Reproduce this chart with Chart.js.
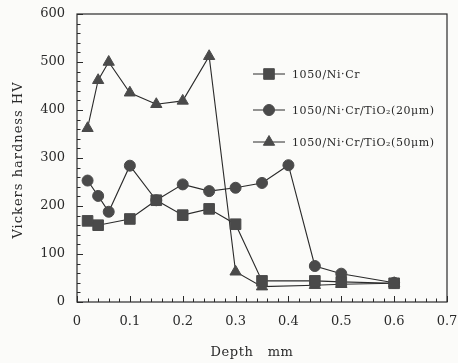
<!DOCTYPE html>
<html>
<head>
<meta charset="utf-8">
<script src="https://cdn.jsdelivr.net/npm/chart.js@4.4.1/dist/chart.umd.min.js"></script>
<style>
  html, body { margin: 0; padding: 0; background: #fbfbf9; }
  #wrap { width: 458px; height: 363px; }
</style>
</head>
<body>
<div id="wrap"><canvas id="hv"></canvas></div>
<script>
// data
const seriesNames = ['1050/Ni·Cr', '1050/Ni·Cr/TiO₂(20μm)', '1050/Ni·Cr/TiO₂(50μm)'];

const depthNiCr = [0.02, 0.04, 0.1, 0.15, 0.2, 0.25, 0.3, 0.35, 0.45, 0.5, 0.6];
const hvNiCr    = [169, 160, 173, 212, 181, 194, 162, 44, 44, 42, 39];

const depth20 = [0.02, 0.04, 0.06, 0.1, 0.15, 0.2, 0.25, 0.3, 0.35, 0.4, 0.45, 0.5, 0.6];
const hv20    = [253, 221, 188, 284, 212, 245, 231, 238, 248, 285, 75, 59, 40];

const depth50 = [0.02, 0.04, 0.06, 0.1, 0.15, 0.2, 0.25, 0.3, 0.35, 0.45, 0.5, 0.6];
const hv50    = [362, 462, 500, 436, 412, 419, 512, 63, 32, 35, 37, 39];

const xTicks = [0, 0.1, 0.2, 0.3, 0.4, 0.5, 0.6, 0.7];
const yTicks = [0, 100, 200, 300, 400, 500, 600];

const xTitle = 'Depth   mm';
const yTitle = 'Vickers hardness HV';

const FONT = '"DejaVu Serif", "Liberation Serif", serif';
const INK = '#2a2a2a';
const MARK = '#4a4a4a';

function pts(xs, ys) {
    return xs.map((x, i) => ({ x: x, y: ys[i] }));
}

// box + inward ticks, drawn from the scales
const frameTicks = {
    id: 'frameTicks',
    afterDraw(chart) {
        const ctx = chart.ctx;
        const a = chart.chartArea;
        const xs = chart.scales.x, ys = chart.scales.y;
        ctx.save();
        ctx.strokeStyle = INK;
        ctx.lineWidth = 1.2;
        ctx.strokeRect(a.left, a.top, a.right - a.left, a.bottom - a.top);
        ctx.lineWidth = 1;
        ctx.beginPath();
        for (let v = 0; v <= 600.001; v += 20) {
            const py = Math.round(ys.getPixelForValue(v)) + 0.5;
            const len = (Math.round(v) % 100 === 0) ? 6 : 3.5;
            ctx.moveTo(a.left, py);
            ctx.lineTo(a.left + len, py);
        }
        for (let k = 0; k <= 35; k++) {
            const px = Math.round(xs.getPixelForValue(k * 0.02)) + 0.5;
            const len = (k % 5 === 0) ? 6 : 3.5;
            ctx.moveTo(px, a.bottom);
            ctx.lineTo(px, a.bottom - len);
        }
        ctx.stroke();

        // axis titles, a bit letter-spaced like the scan
        ctx.fillStyle = INK;
        ctx.textAlign = 'center';
        ctx.textBaseline = 'middle';
        ctx.font = '13px ' + FONT;
        ctx.letterSpacing = '0.6px';
        ctx.fillText(xTitle, 252, 353);
        ctx.translate(19, (a.top + a.bottom) / 2 + 2);
        ctx.rotate(-Math.PI / 2);
        ctx.font = '13px ' + FONT;
        ctx.letterSpacing = '1px';
        ctx.fillText(yTitle, 0, 0);
        ctx.restore();
    }
};

// legend inside the plot, right side
const innerLegend = {
    id: 'innerLegend',
    afterDraw(chart) {
        const ctx = chart.ctx;
        const rows = [74, 110, 142];
        const x0 = 253, x1 = 285;
        ctx.save();
        chart.data.datasets.forEach((ds, i) => {
            const y = rows[i];
            ctx.strokeStyle = INK;
            ctx.lineWidth = 1;
            ctx.beginPath();
            ctx.moveTo(x0, y);
            ctx.lineTo(x1, y);
            ctx.stroke();
            ctx.fillStyle = MARK;
            ctx.strokeStyle = MARK;
            Chart.helpers.drawPoint(ctx, {
                pointStyle: ds.pointStyle,
                radius: ds.pointRadius,
                borderWidth: 1
            }, (x0 + x1) / 2, y);
            ctx.fillStyle = INK;
            ctx.font = '11px ' + FONT;
            ctx.textBaseline = 'middle';
            ctx.letterSpacing = '0.6px';
            ctx.fillText(ds.label, 292, y + 1);
        });
        ctx.restore();
    }
};

function makeSet(label, data, style, r) {
    return {
        label: label,
        data: data,
        borderColor: INK,
        borderWidth: 1.1,
        backgroundColor: MARK,
        pointBackgroundColor: MARK,
        pointBorderColor: MARK,
        pointBorderWidth: 1,
        pointStyle: style,
        pointRadius: r,
        pointHoverRadius: r,
        tension: 0,
        fill: false
    };
}

function noOverhang(s) {
    s.paddingLeft = 0;
    s.paddingRight = 0;
    s.paddingTop = 0;
    s.paddingBottom = 0;
}

new Chart(document.getElementById('hv'), {
    type: 'line',
    data: {
        datasets: [
            makeSet(seriesNames[0], pts(depthNiCr, hvNiCr), 'rect', 7.5),
            makeSet(seriesNames[1], pts(depth20, hv20), 'circle', 5.5),
            makeSet(seriesNames[2], pts(depth50, hv50), 'triangle', 6.5)
        ]
    },
    options: {
        responsive: true,
        maintainAspectRatio: false,
        animation: false,
        layout: { padding: { top: 14, right: 11, left: 0, bottom: 0 } },
        plugins: {
            legend: { display: false },
            tooltip: { enabled: false }
        },
        scales: {
            x: {
                type: 'linear',
                min: 0,
                max: 0.7,
                afterBuildTicks: (s) => { s.ticks = xTicks.map(v => ({ value: v })); },
                afterFit: (s) => { s.height = 61; noOverhang(s); },
                grid: { display: false, drawTicks: false },
                border: { display: false },
                ticks: {
                    color: INK,
                    padding: 12,
                    font: { family: FONT, size: 13 },
                    callback: (v) => String(Math.round(v * 10) / 10)
                }
            },
            y: {
                min: 0,
                max: 600,
                afterBuildTicks: (s) => { s.ticks = yTicks.map(v => ({ value: v })); },
                afterFit: (s) => { s.width = 77; noOverhang(s); },
                grid: { display: false, drawTicks: false },
                border: { display: false },
                ticks: {
                    color: INK,
                    padding: 12,
                    font: { family: FONT, size: 13 }
                }
            }
        }
    },
    plugins: [frameTicks, innerLegend]
});
</script>
</body>
</html>
